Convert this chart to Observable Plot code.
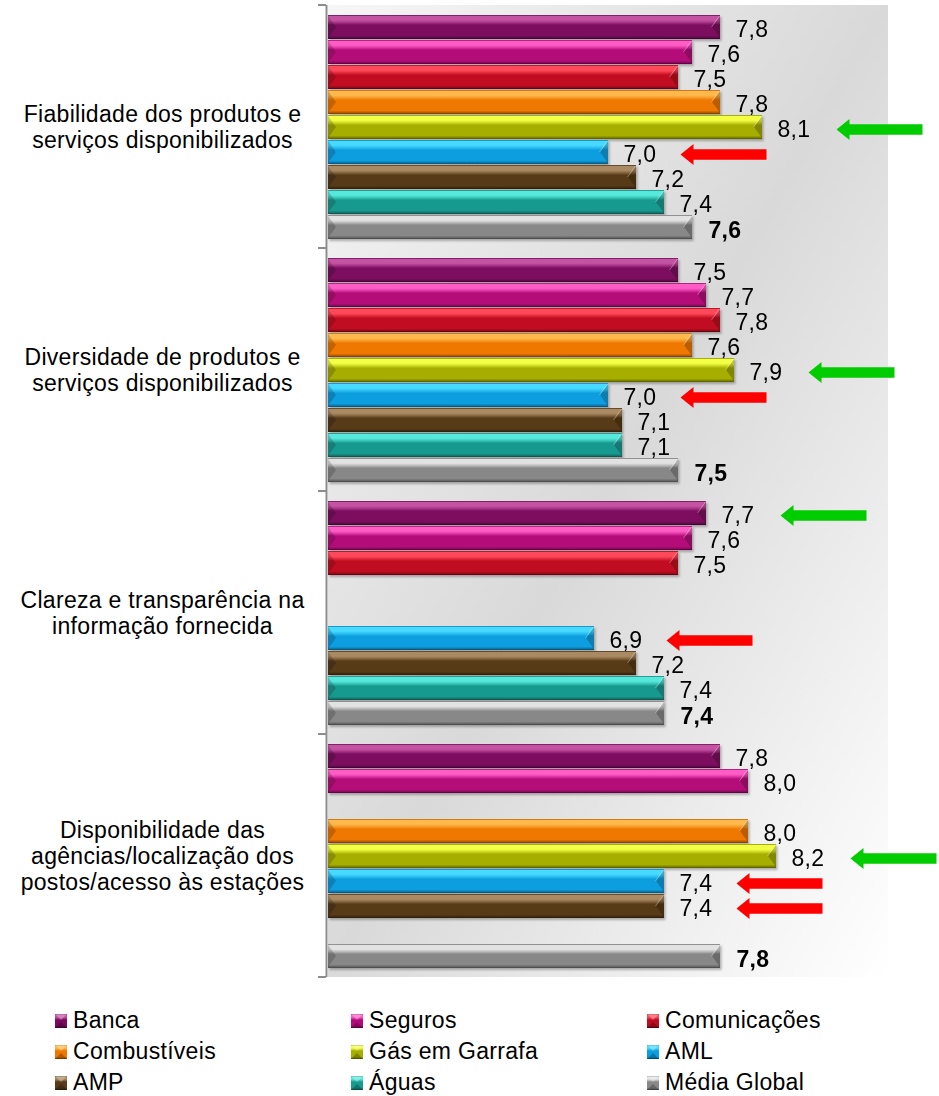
<!DOCTYPE html>
<html>
<head>
<meta charset="utf-8">
<script src="https://cdn.jsdelivr.net/npm/d3@7"></script>
<script src="https://cdn.jsdelivr.net/npm/@observablehq/plot@0.6"></script>
<style>
  body { margin: 0; background: #fff; font-family: Arial, "Liberation Sans", sans-serif; }
  #chart svg text { letter-spacing: 0.3px; }
  .legend { display: grid; grid-template-columns: 296px 296px 296px; padding: 15px 0 0 55px; }
  .item { display: flex; align-items: center; height: 31px; font-size: 23px; letter-spacing: 0.3px; color: #000; }
  .item svg { margin-right: 6px; }
</style>
</head>
<body>
<svg id="defs" width="0" height="0" style="position:absolute"></svg>
<div id="chart"></div>
<div class="legend" id="legend"></div>
<script>
// Satisfaction items (one group of bars each)
const categories = [
  "Fiabilidade dos produtos e\nserviços disponibilizados",
  "Diversidade de produtos e\nserviços disponibilizados",
  "Clareza e transparência na\ninformação fornecida",
  "Disponibilidade das\nagências/localização dos\npostos/acesso às estações"
];

// Sectors, in drawing order
const series = ["Banca", "Seguros", "Comunicações", "Combustíveis", "Gás em Garrafa", "AML", "AMP", "Águas", "Média Global"];

// Scores per sector, one value per item (null = not evaluated)
const banca        = [7.8, 7.5, 7.7, 7.8];
const seguros      = [7.6, 7.7, 7.6, 8.0];
const comunicacoes = [7.5, 7.8, 7.5, null];
const combustiveis = [7.8, 7.6, null, 8.0];
const gasGarrafa   = [8.1, 7.9, null, 8.2];
const aml          = [7.0, 7.0, 6.9, 7.4];
const amp          = [7.2, 7.1, 7.2, 7.4];
const aguas        = [7.4, 7.1, 7.4, null];
const mediaGlobal  = [7.6, 7.5, 7.4, 7.8];

// Value axis extent
const axisMin = 5;
const axisMax = 9;

// Bar palette: [highlight, base]
const palette = [
  ["#c452a3", "#7b0a5f"],
  ["#ff5cc6", "#b4097a"],
  ["#ff4a5a", "#c00a20"],
  ["#ffb84c", "#ee7800"],
  ["#f2ff44", "#a6ae00"],
  ["#46d9ff", "#0a9ee0"],
  ["#a98a62", "#573a17"],
  ["#55e8db", "#199a8f"],
  ["#e2e2e2", "#888888"]
];

const seriesValues = [banca, seguros, comunicacoes, combustiveis, gasGarrafa, aml, amp, aguas, mediaGlobal];
const rows = series.flatMap((s, si) =>
  seriesValues[si].map((v, ci) => ({category: categories[ci], series: s, value: v}))
).filter(d => d.value != null);

const average = "Média Global";
const fmt = v => v.toFixed(1).replace(".", ",");

// Highest and lowest sector in each item (global average excluded)
const maxArrows = [], minArrows = [];
for (const c of categories) {
  const g = rows.filter(d => d.category === c && d.series !== average);
  const hi = d3.max(g, d => d.value), lo = d3.min(g, d => d.value);
  maxArrows.push(...g.filter(d => d.value === hi));
  minArrows.push(...g.filter(d => d.value === lo));
}

// Gradients and shadow shared by the chart and the legend
const ns = "http://www.w3.org/2000/svg";
const defs = d3.select("#defs").append("defs");
palette.forEach(([light, base], i) => {
  const dark1 = d3.interpolateRgb(base, "#000")(0.25);
  const dark2 = d3.interpolateRgb(base, "#000")(0.5);
  const mid = d3.interpolateRgb(light, base)(0.45);
  const lg = defs.append("linearGradient").attr("id", `bar-${i}`)
    .attr("x1", 0).attr("y1", 0).attr("x2", 0).attr("y2", 1);
  [[0, dark1], [0.06, light], [0.22, light], [0.32, mid], [0.42, base], [0.86, base], [0.94, dark1], [1, dark2]]
    .forEach(([o, c]) => lg.append("stop").attr("offset", o).attr("stop-color", c));
});
const bgGrad = defs.append("linearGradient").attr("id", "plotBg")
  .attr("x1", 0).attr("y1", 0).attr("x2", 1).attr("y2", 1);
[[0, "#f6f6f6"], [0.5, "#d9d9d9"], [1, "#ffffff"]]
  .forEach(([o, c]) => bgGrad.append("stop").attr("offset", o).attr("stop-color", c));
defs.append("filter").attr("id", "barShadow").attr("x", "-5%").attr("y", "-20%").attr("width", "115%").attr("height", "160%")
  .append("feDropShadow").attr("dx", 1.5).attr("dy", 2).attr("stdDeviation", 1.2)
  .attr("flood-color", "#000").attr("flood-opacity", 0.28);

// Block arrow pointing left, tip at the origin
const arrowSymbol = {
  draw(ctx) {
    ctx.moveTo(0, 0);
    ctx.lineTo(13, -10.5);
    ctx.lineTo(13, -5.3);
    ctx.lineTo(86, -5.3);
    ctx.lineTo(86, 5.3);
    ctx.lineTo(13, 5.3);
    ctx.lineTo(13, 10.5);
    ctx.closePath();
  }
};

const plot = Plot.plot({
  width: 939,
  height: 990,
  marginLeft: 328,
  marginRight: 51,
  marginTop: 5,
  marginBottom: 13,
  style: {fontFamily: 'Arial, "Liberation Sans", sans-serif', fontSize: "23px", background: "transparent", overflow: "visible"},
  x: {domain: [axisMin, axisMax], axis: null},
  y: {domain: series, axis: null, paddingInner: 0.06, paddingOuter: 0.37},
  fy: {domain: categories, axis: null, padding: 0},
  color: {type: "ordinal", domain: series, range: series.map((_, i) => `url(#bar-${i})`)},
  marks: [
    Plot.ruleX([axisMin], {dx: -2, stroke: "#8c8c8c", strokeWidth: 2}),
    Plot.barX(rows, {fy: "category", y: "series", x1: () => axisMin, x2: "value", fill: "series"}),
    Plot.text(rows.filter(d => d.series !== average), {
      fy: "category", y: "series", x: "value", text: d => fmt(d.value),
      dx: 15, dy: 2, textAnchor: "start", fill: "#000"
    }),
    Plot.text(rows.filter(d => d.series === average), {
      fy: "category", y: "series", x: "value", text: d => fmt(d.value),
      dx: 16, dy: 3, textAnchor: "start", fill: "#000", fontWeight: "bold"
    }),
    Plot.dot(maxArrows, {fy: "category", y: "series", x: "value", symbol: arrowSymbol, r: 10, fill: "#00cc00", dx: 74, dy: 2}),
    Plot.dot(minArrows, {fy: "category", y: "series", x: "value", symbol: arrowSymbol, r: 10, fill: "#ff0000", dx: 72, dy: 2}),
    Plot.text(categories, {
      fy: d => d, text: d => d, frameAnchor: "left", dx: -166,
      textAnchor: "middle", lineHeight: 1.12, fill: "#000"
    })
  ]
});

// Plot background, category boundary ticks and bar bevels
{
  const xs = plot.scale("x"), fys = plot.scale("fy");
  const x0 = xs.apply(axisMin), x1 = xs.apply(axisMax);
  const [top, bottom] = fys.range;
  const step = (bottom - top) / categories.length;

  const bg = document.createElementNS(ns, "rect");
  bg.setAttribute("x", x0);
  bg.setAttribute("y", top);
  bg.setAttribute("width", x1 - x0);
  bg.setAttribute("height", bottom - top);
  bg.setAttribute("fill", "url(#plotBg)");
  plot.insertBefore(bg, plot.querySelector("g"));

  const ticks = document.createElementNS(ns, "g");
  ticks.setAttribute("stroke", "#8c8c8c");
  ticks.setAttribute("stroke-width", 2);
  for (let i = 0; i <= categories.length; i++) {
    const l = document.createElementNS(ns, "line");
    const y = top + i * step;
    l.setAttribute("x1", x0 - 10);
    l.setAttribute("x2", x0 - 2);
    l.setAttribute("y1", y);
    l.setAttribute("y2", y);
    ticks.appendChild(l);
  }
  plot.appendChild(ticks);

  const barGroup = plot.querySelector('g[aria-label="bar"]');
  if (barGroup) {
    barGroup.setAttribute("filter", "url(#barShadow)");
    for (const r of barGroup.querySelectorAll("rect")) {
      const x = +r.getAttribute("x"), y = +r.getAttribute("y");
      const w = +r.getAttribute("width"), h = +r.getAttribute("height");
      const e = Math.min(8, w / 2, h / 2);
      const poly = (pts, fill) => {
        const p = document.createElementNS(ns, "polygon");
        p.setAttribute("points", pts.map(q => q.join(",")).join(" "));
        p.setAttribute("fill", fill);
        r.parentNode.appendChild(p);
      };
      poly([[x, y + 1], [x + e, y + h / 2], [x, y + h - 1]], "rgba(0,0,0,0.18)");
      poly([[x + w, y + 1], [x + w - e, y + h / 2], [x + w, y + h - 1]], "rgba(0,0,0,0.22)");
      poly([[x + w, y + 1], [x + w - e, y + h / 2], [x + w - e - 1, y + h / 2], [x + w - 1, y + 1]], "rgba(255,255,255,0.35)");
    }
  }
}
document.getElementById("chart").appendChild(plot);

// Legend: three columns of sector swatches
const legend = d3.select("#legend");
series.forEach((s, i) => {
  const item = legend.append("div").attr("class", "item");
  const sw = item.append("svg").attr("width", 12).attr("height", 14);
  sw.append("rect").attr("width", 12).attr("height", 14).attr("fill", `url(#bar-${i})`);
  sw.append("polygon").attr("points", "0,0 6,6 12,0").attr("fill", "rgba(255,255,255,0.3)");
  sw.append("polygon").attr("points", "0,14 6,8 12,14").attr("fill", "rgba(0,0,0,0.25)");
  item.append("span").text(s);
});
</script>
</body>
</html>
